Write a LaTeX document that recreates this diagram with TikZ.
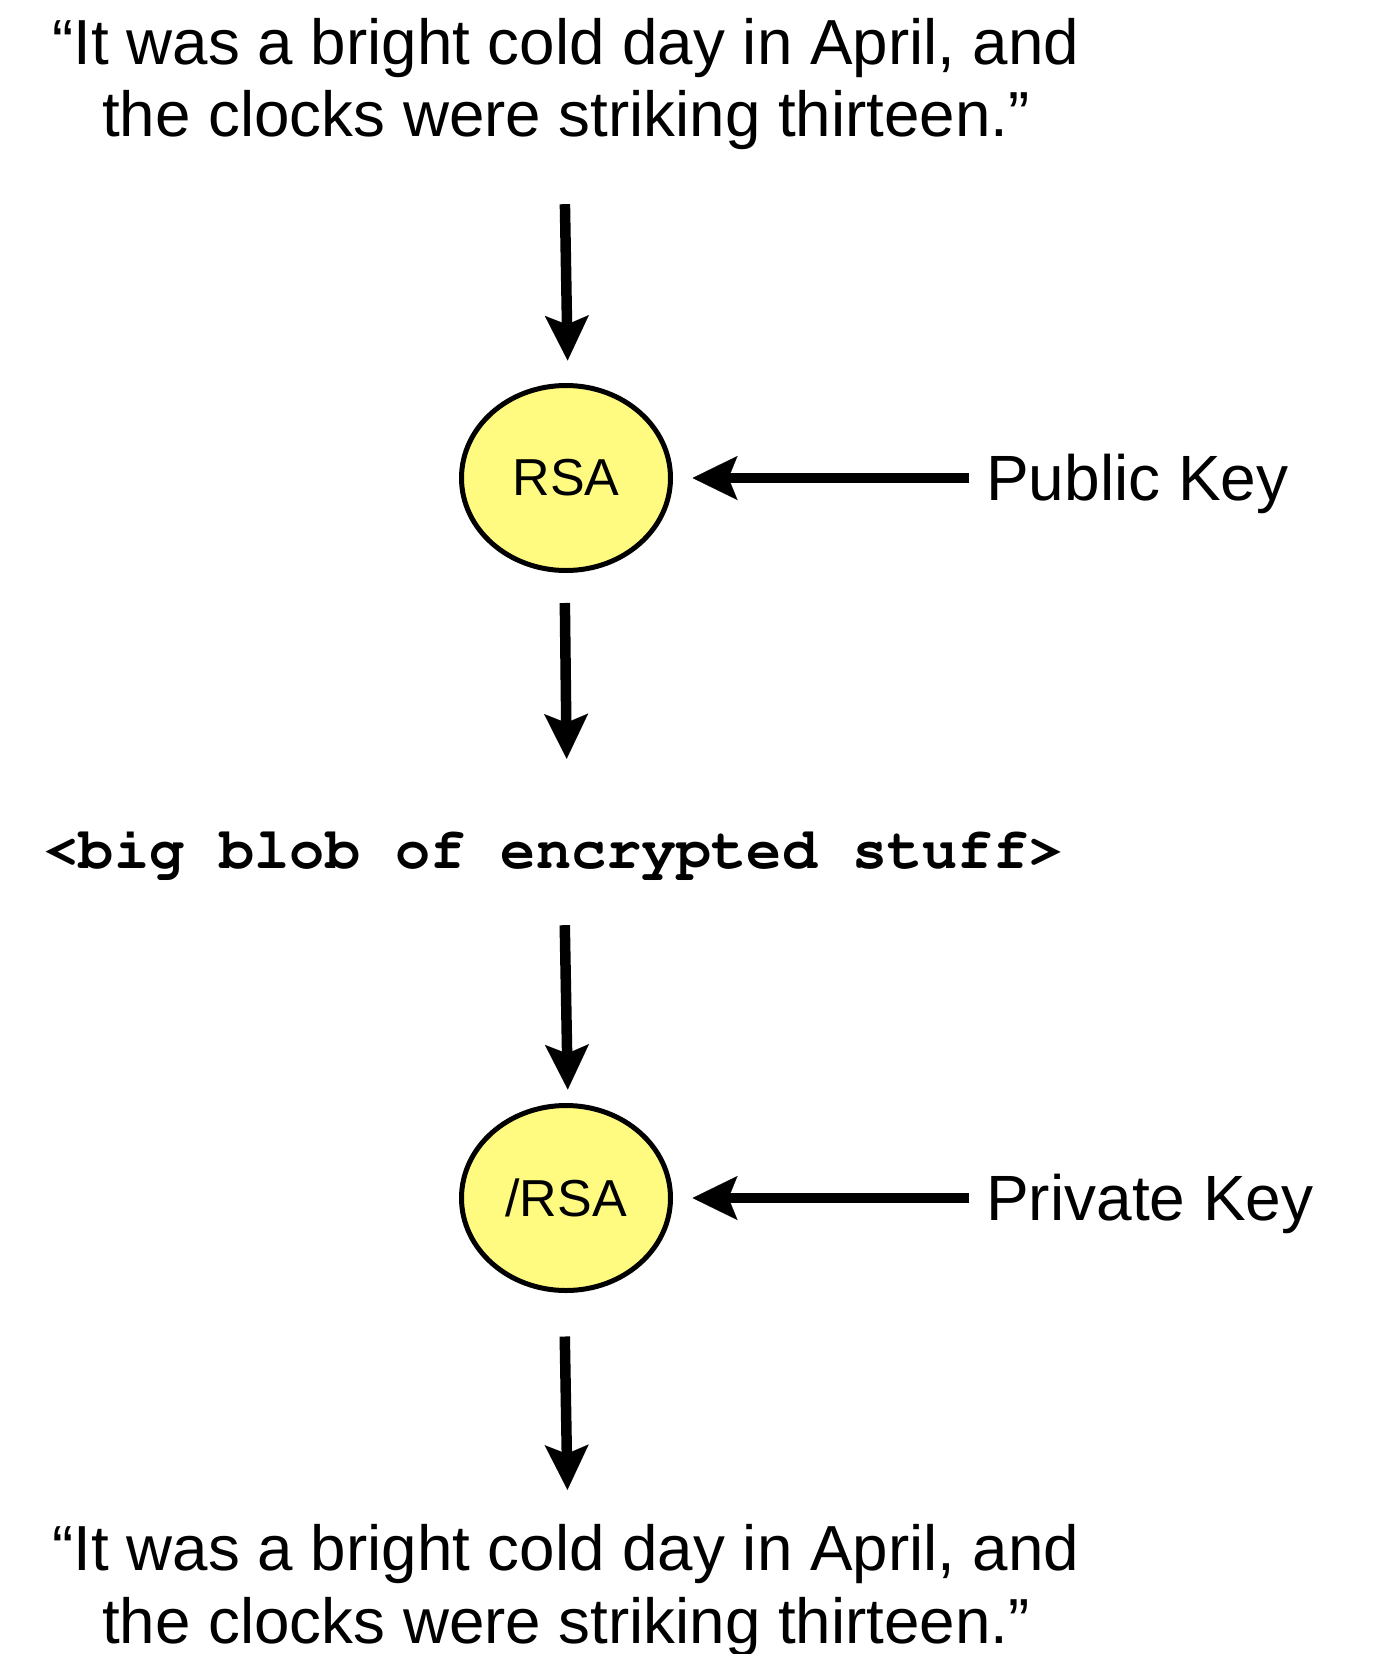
\documentclass[tikz,border=0pt]{standalone}
\usepackage{fontspec}
\setmainfont{Liberation Sans}
\usetikzlibrary{arrows.meta,shapes.geometric}
\definecolor{cipheryellow}{HTML}{FFFB80}
% bold Courier (URW Nimbus Mono) for the ciphertext
\newcommand{\courierbold}{\fontencoding{T1}\fontfamily{pcr}\fontseries{b}\selectfont}
\tikzset{
  flowarrow/.style={line width=10.5pt,
    -{Stealth[length=45pt,width=44pt,inset=9pt,line width=0.1pt]}},
  quote/.style={inner sep=0pt, anchor=base, text height=48pt, text depth=87pt},
  cipher/.style={ellipse, draw, line width=5pt, fill=cipheryellow,
    minimum width=209pt, minimum height=185pt, inner sep=0pt,
    font=\fontsize{52}{60}\selectfont},
  keylabel/.style={inner sep=0pt, anchor=base west,
    font=\fontsize{64}{73}\selectfont},
}
\newcommand{\plaintextlines}{%
  \parbox[t]{1200pt}{\centering\fontsize{63.7}{73}\selectfont
  “It was a bright cold day in April, and\\
  the clocks were striking thirteen.”}}
\begin{document}
\begin{tikzpicture}[x=1pt,y=-1pt]
\useasboundingbox (0,0) rectangle (1374,1654);

% plaintext in
\node[quote] (plain) at (566,64) {\plaintextlines};

% encryption step
\node[cipher] (rsa) at (566,478) {RSA};
\node[keylabel] (pub) at (986,500) {Public Key};

% ciphertext
\node[inner sep=0pt, anchor=base, text height=37pt, text depth=15pt,
      font=\fontsize{58.6}{60}\courierbold]
  (blob) at (553.6,868) {<big blob of encrypted stuff>};

% decryption step
\node[cipher] (dersa) at (566,1198) {/RSA};
\node[keylabel] (priv) at (986,1220) {Private Key};

% plaintext out
\node[quote] (plainout) at (566,1570) {\plaintextlines};

% connectors
\draw[flowarrow, shorten <=53pt, shorten >=22.5pt]
  ([xshift=-2pt]plain.south) -- ([xshift=2pt]rsa.north);
\draw[flowarrow, shorten <=17pt, shorten >=19.5pt]
  (rsa -| pub.west) -- (rsa);
\draw[flowarrow, shorten <=30pt, shorten >=72pt]
  ([xshift=-1.5pt]rsa.south) -- ([xshift=1.5pt]rsa.south |- blob.north);
\draw[flowarrow, shorten <=42pt, shorten >=13.5pt]
  ([xshift=-2pt]dersa.north |- blob.south) -- ([xshift=2pt]dersa.north);
\draw[flowarrow, shorten <=17pt, shorten >=19.5pt]
  (dersa -| priv.west) -- (dersa);
\draw[flowarrow, shorten <=43.5pt, shorten >=32pt]
  ([xshift=-2pt]dersa.south) -- ([xshift=2pt]plainout.north);
\end{tikzpicture}
\end{document}
